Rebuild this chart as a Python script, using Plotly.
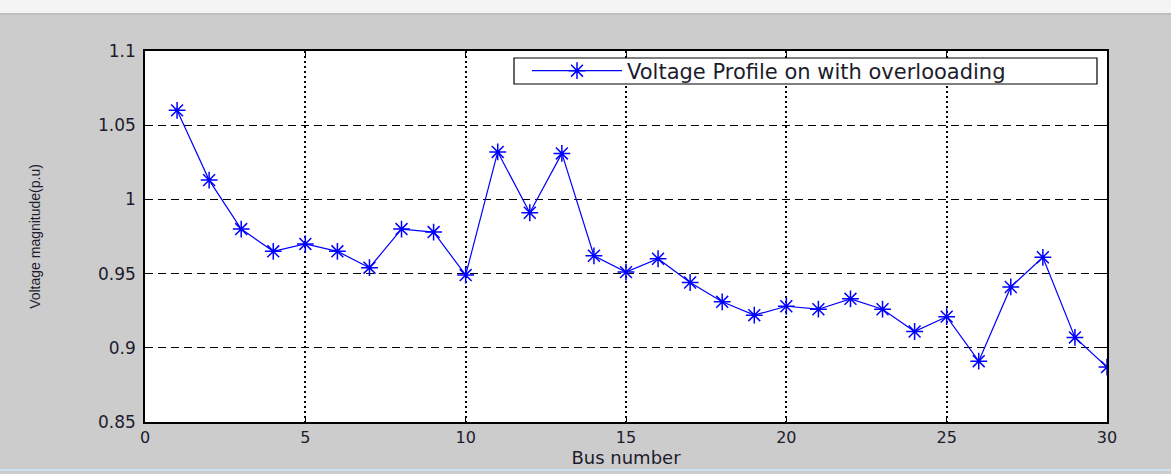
import plotly.graph_objects as go

bus = list(range(1, 31))
voltage = [1.060, 1.013, 0.980, 0.965, 0.970, 0.965, 0.954, 0.980, 0.978, 0.949,
           1.032, 0.991, 1.031, 0.962, 0.951, 0.960, 0.944, 0.931, 0.922, 0.928,
           0.926, 0.933, 0.926, 0.911, 0.921, 0.891, 0.941, 0.961, 0.907, 0.887]
series_name = "Voltage Profile on with overlooading"
x_ticks = [0, 5, 10, 15, 20, 25, 30]
y_ticks = [0.85, 0.9, 0.95, 1.0, 1.05, 1.1]
y_tick_text = ["0.85", "0.9", "0.95", "1", "1.05", "1.1"]

W, H = 1171, 474
L, R, T, B = 145, 64, 51, 52
PW, PH = W - L - R, H - T - B


def px_x(p):
    return (p - L) / PW


def px_y(p):
    return 1 - (p - T) / PH


wide = "DejaVu Sans, Verdana, sans-serif"
arial = "Liberation Sans, Arial, sans-serif"
txt = "#1c1c2c"

fig = go.Figure()
fig.add_trace(go.Scatter(
    x=bus, y=voltage, mode="lines+markers", name=series_name,
    line=dict(color="#0000ff", width=1.2),
    marker=dict(symbol="asterisk-open", size=14, color="#0000ff",
                line=dict(color="#0000ff", width=1.5)),
))

fig.update_layout(
    width=W, height=H,
    paper_bgcolor="#cccccc", plot_bgcolor="#ffffff",
    margin=dict(l=L, r=R, t=T, b=B),
    font=dict(family=wide, size=15, color=txt),
    showlegend=True,
    legend=dict(x=px_x(527), y=px_y(71), xanchor="left", yanchor="middle",
                bgcolor="rgba(0,0,0,0)", borderwidth=0,
                font=dict(family=wide, size=21, color=txt),
                itemwidth=90),
    xaxis=dict(range=[0, 30], tickvals=x_ticks, ticks="inside", ticklen=5,
               tickcolor="#000", showline=True, linecolor="#000", linewidth=1.5,
               mirror="ticks", showgrid=True, gridcolor="#000", griddash="2px,3px",
               gridwidth=1.5, zeroline=False,
               title=dict(text="Bus number", font=dict(family=wide, size=18), standoff=0),
               tickfont=dict(family=wide, size=16)),
    yaxis=dict(range=[0.85, 1.1], tickvals=y_ticks, ticktext=y_tick_text,
               ticks="inside", ticklen=5, tickcolor="#000", showline=True,
               linecolor="#000", linewidth=1.5, mirror="ticks", showgrid=True,
               gridcolor="#000", griddash="8px,5px", gridwidth=1, zeroline=False,
               ticklabelstandoff=4,
               title=dict(text="Voltage magnitude(p.u)", font=dict(family=arial, size=14),
                          standoff=54),
               tickfont=dict(family=wide, size=17)),
)

# legend frame (white box with black border, as in the original)
fig.add_shape(type="rect", xref="paper", yref="paper",
              x0=px_x(514), x1=px_x(1097), y0=px_y(84), y1=px_y(58),
              fillcolor="#ffffff", line=dict(color="#000000", width=1.2), layer="above")

# window remnants: light strip at top and thin bluish line at bottom
fig.add_shape(type="rect", xref="paper", yref="paper",
              x0=px_x(0), x1=px_x(W), y0=px_y(13), y1=px_y(0),
              fillcolor="#f4f4f4", line=dict(width=0), layer="below")
fig.add_shape(type="line", xref="paper", yref="paper",
              x0=px_x(0), x1=px_x(W), y0=px_y(14), y1=px_y(14),
              line=dict(color="#b8b8b8", width=1.5), layer="below")
fig.add_shape(type="line", xref="paper", yref="paper",
              x0=px_x(0), x1=px_x(W), y0=px_y(470), y1=px_y(470),
              line=dict(color="#cfe0f0", width=2), layer="below")

fig.write_html("out.html", config={"displayModeBar": False},
               post_script="document.body.style.margin='0';document.body.style.overflow='hidden';")
